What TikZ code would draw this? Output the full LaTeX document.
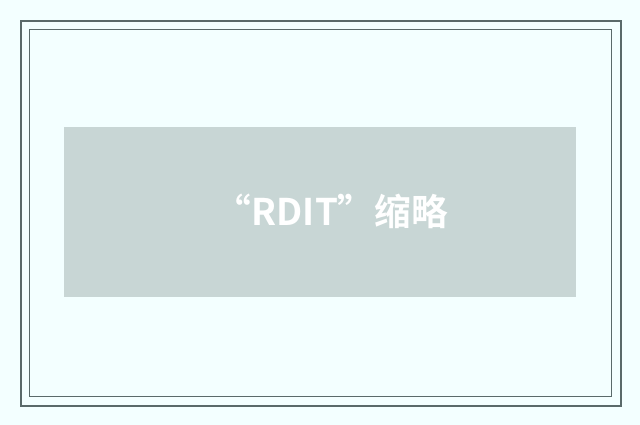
\documentclass[tikz,border=0pt]{standalone}
\usepackage{fontspec}
\usepackage[dvipsnames]{xcolor}
\newfontfamily\cjk{Noto Sans CJK SC Bold}
\definecolor{bgcyan}{HTML}{F3FFFF}
\definecolor{framegray}{HTML}{5A6A6A}
\definecolor{boxgray}{HTML}{C8D6D5}

\begin{document}
\begin{tikzpicture}[x=1pt,y=-1pt,outer frame/.style={draw=framegray,line width=2pt},inner frame/.style={draw=framegray,line width=1pt},title node/.style={inner sep=0pt,text=white,font=\cjk\fontsize{36.7}{42}\selectfont}]
                \fill[bgcyan] (0,0) rectangle (640,425);
                \useasboundingbox (0,0) rectangle (640,425);
                \draw[outer frame] (21,21) rectangle (621,406);
                \draw[inner frame] (29.5,29.5) rectangle (611.5,396.5);
                \fill[boxgray] (64,127) rectangle (576,297);
                \node[title node] (title) at (331.5,211) {“RDIT”缩略};
            \end{tikzpicture}
\end{document}
